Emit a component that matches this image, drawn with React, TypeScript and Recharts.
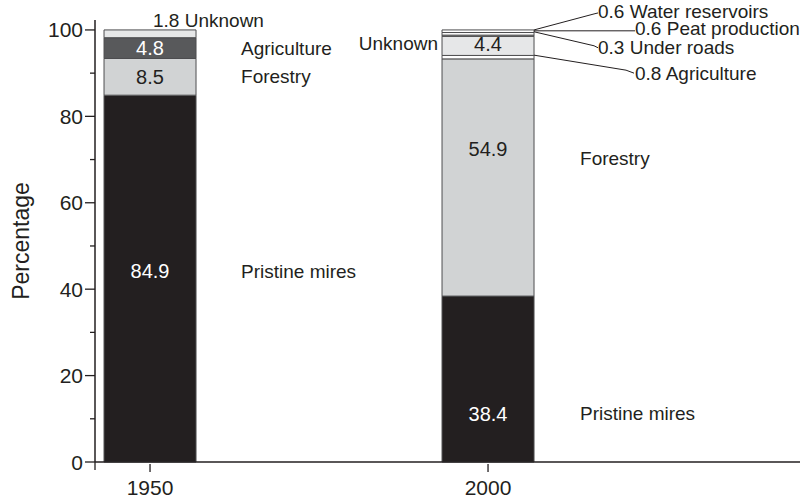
import React from 'react';
import { BarChart, Bar, XAxis, YAxis, Cell, LabelList } from 'recharts';

const years = [1950, 2000];
const pristineMires = [84.9, 38.4];
const forestry = [8.5, 54.9];
const agriculture = [4.8, 0.8];
const unknown = [1.8, 4.4];
const underRoads = [0, 0.3];
const peatProduction = [0, 0.6];
const waterReservoirs = [0, 0.6];

const yTicks = [0, 10, 20, 30, 40, 50, 60, 70, 80, 90, 100];
const yLabelTicks = [0, 20, 40, 60, 80, 100];
const xTicks = [1950, 2000];
const yTitle = 'Percentage';

const data = years.map((year, i) => ({
  year,
  pristine: pristineMires[i],
  forestry: forestry[i],
  agriculture: agriculture[i],
  unknown: unknown[i],
  underRoads: underRoads[i],
  peat: peatProduction[i],
  water: waterReservoirs[i],
}));

const INK = '#231f20';
const STROKE = '#4d4d4f';
const FONT = '"Liberation Sans", Arial, sans-serif';
const FS_TICK = 21;
const FS_VAL = 20;
const FS_NAME = 19;
const FS_TITLE = 23;

type TxtProps = {
  x: number;
  y: number;
  anchor?: 'start' | 'middle' | 'end';
  fill?: string;
  rotate?: number;
  size?: number;
  children: React.ReactNode;
};

const Txt = ({ x, y, anchor = 'start', fill = INK, rotate = 0, size = FS_NAME, children }: TxtProps) => (
  <text
    transform={`translate(${x},${y}) rotate(${rotate})`}
    textAnchor={anchor}
    dominantBaseline="central"
    fontFamily={FONT}
    fontSize={size}
    fill={fill}
  >
    {children}
  </text>
);

const YTick = (props: any) => {
  const { x, y, payload } = props;
  const v = payload.value;
  const major = yLabelTicks.includes(v);
  return (
    <g>
      <line x1={x - (major ? 10 : 5)} y1={y} x2={x} y2={y} stroke={INK} strokeWidth={1.3} />
      {major && (
        <Txt x={x - 12} y={y} anchor="end" size={FS_TICK}>
          {String(v)}
        </Txt>
      )}
      {v === 0 && <line x1={x} y1={y} x2={x} y2={y + 8} stroke={INK} strokeWidth={1.3} />}
    </g>
  );
};

const XTick = (props: any) => {
  const { x, y, payload } = props;
  return (
    <g>
      <line x1={x} y1={y} x2={x} y2={y + 8} stroke={INK} strokeWidth={1.3} />
      <Txt x={x} y={y + 23} anchor="middle" size={FS_TICK}>
        {String(payload.value)}
      </Txt>
    </g>
  );
};

const ONLY_2000 = ['underRoads', 'peat', 'water'];

const segLabel = (key: string) => (props: any) => {
  const { x, y, width, height, index } = props;
  if (width == null || height == null) return null;
  const cx = x + width / 2;
  const R = x + width;
  const mid = y + height / 2;
  const is1950 = index === 0 && !ONLY_2000.includes(key);
  if (is1950) {
    if (key === 'pristine') {
      const ly = y + height * 0.48;
      return (
        <g>
          <Txt x={cx} y={ly} anchor="middle" fill="#fff" size={FS_VAL}>{String(pristineMires[0])}</Txt>
          <Txt x={R + 45} y={ly}>Pristine mires</Txt>
        </g>
      );
    }
    if (key === 'forestry')
      return (
        <g>
          <Txt x={cx} y={mid} anchor="middle" size={FS_VAL}>{String(forestry[0])}</Txt>
          <Txt x={R + 45} y={mid}>Forestry</Txt>
        </g>
      );
    if (key === 'agriculture')
      return (
        <g>
          <Txt x={cx} y={mid} anchor="middle" fill="#fff" size={FS_VAL}>{String(agriculture[0])}</Txt>
          <Txt x={R + 45} y={mid}>Agriculture</Txt>
        </g>
      );
    if (key === 'unknown')
      return <Txt x={x + 49} y={y - 9}>{`${unknown[0]} Unknown`}</Txt>;
    return null;
  }
  if (key === 'pristine') {
    const ly = y + height * 0.71;
    return (
      <g>
        <Txt x={cx} y={ly} anchor="middle" fill="#fff" size={FS_VAL}>{String(pristineMires[1])}</Txt>
        <Txt x={R + 46} y={ly}>Pristine mires</Txt>
      </g>
    );
  }
  if (key === 'forestry') {
    return (
      <g>
        <Txt x={cx} y={y + height * 0.38} anchor="middle" size={FS_VAL}>{String(forestry[1])}</Txt>
        <Txt x={R + 46} y={y + height * 0.42}>Forestry</Txt>
      </g>
    );
  }
  if (key === 'agriculture') {
    return (
      <g>
        <polyline
          points={`${R},${mid - 2} ${R + 92},${mid + 13} ${R + 100},${mid + 16}`}
          fill="none"
          stroke={INK}
          strokeWidth={1}
        />
        <Txt x={R + 101} y={mid + 16}>{`${agriculture[1]} Agriculture`}</Txt>
      </g>
    );
  }
  if (key === 'unknown') {
    return (
      <g>
        <Txt x={cx} y={mid - 2} anchor="middle" size={FS_VAL}>{String(unknown[1])}</Txt>
        <Txt x={x - 4} y={mid - 2} anchor="end">Unknown</Txt>
      </g>
    );
  }
  if (key === 'underRoads') {
    return (
      <g>
        <polyline
          points={`${R},${mid - 4} ${R + 60},${mid + 10} ${R + 64},${mid + 12}`}
          fill="none"
          stroke={INK}
          strokeWidth={1}
        />
        <Txt x={R + 64} y={mid + 12}>{`${underRoads[1]} Under roads`}</Txt>
      </g>
    );
  }
  if (key === 'peat') {
    return (
      <g>
        <line x1={R} y1={mid - 3} x2={R + 101} y2={mid - 3} stroke={INK} strokeWidth={1} />
        <Txt x={R + 101} y={mid - 5}>{`${peatProduction[1]} Peat production`}</Txt>
      </g>
    );
  }
  if (key === 'water') {
    return (
      <g>
        <polyline
          points={`${R},${y} ${R + 60},${y - 16} ${R + 64},${y - 17}`}
          fill="none"
          stroke={INK}
          strokeWidth={1}
        />
        <Txt x={R + 64} y={y - 18}>{`${waterReservoirs[1]} Water reservoirs`}</Txt>
      </g>
    );
  }
  return null;
};

const series = [
  { key: 'pristine', colors: ['#231f20', '#231f20'] },
  { key: 'forestry', colors: ['#d1d3d4', '#d1d3d4'] },
  { key: 'agriculture', colors: ['#58595b', '#ffffff'] },
  { key: 'unknown', colors: ['#e6e7e8', '#e6e7e8'] },
  { key: 'underRoads', colors: ['#ffffff', '#ffffff'] },
  { key: 'peat', colors: ['#ffffff', '#ffffff'] },
  { key: 'water', colors: ['#ffffff', '#ffffff'] },
];

export default function App() {
  return (
    <div style={{ position: 'absolute', left: 0, top: 0, background: '#fff' }}>
      <BarChart
        width={812}
        height={500}
        data={data}
        margin={{ top: 20, right: 12, bottom: 8, left: 0 }}
      >
        <XAxis
          dataKey="year"
          type="number"
          domain={[1941.86, 2046.15]}
          ticks={xTicks}
          height={30}
          axisLine={{ stroke: INK, strokeWidth: 1.5 }}
          tickLine={false}
          tickSize={0}
          tick={<XTick />}
        />
        <YAxis
          type="number"
          domain={[0, 102.3]}
          ticks={yTicks}
          width={95}
          axisLine={{ stroke: INK, strokeWidth: 1.5 }}
          tickLine={false}
          tickSize={0}
          tickMargin={0}
          interval={0}
          tick={<YTick />}
          label={{
            value: yTitle,
            angle: -90,
            position: 'insideLeft',
            content: () => (
              <Txt x={21} y={241} anchor="middle" rotate={-90} size={FS_TITLE}>
                {yTitle}
              </Txt>
            ),
          }}
        />
        {series.map((s) => (
          <Bar
            key={s.key}
            dataKey={s.key}
            stackId="a"
            barSize={92}
            stroke={STROKE}
            strokeWidth={1}
            isAnimationActive={false}
          >
            {data.map((d, i) => (
              <Cell key={i} fill={s.colors[i]} />
            ))}
            <LabelList dataKey={s.key} content={segLabel(s.key)} />
          </Bar>
        ))}
      </BarChart>
    </div>
  );
}
